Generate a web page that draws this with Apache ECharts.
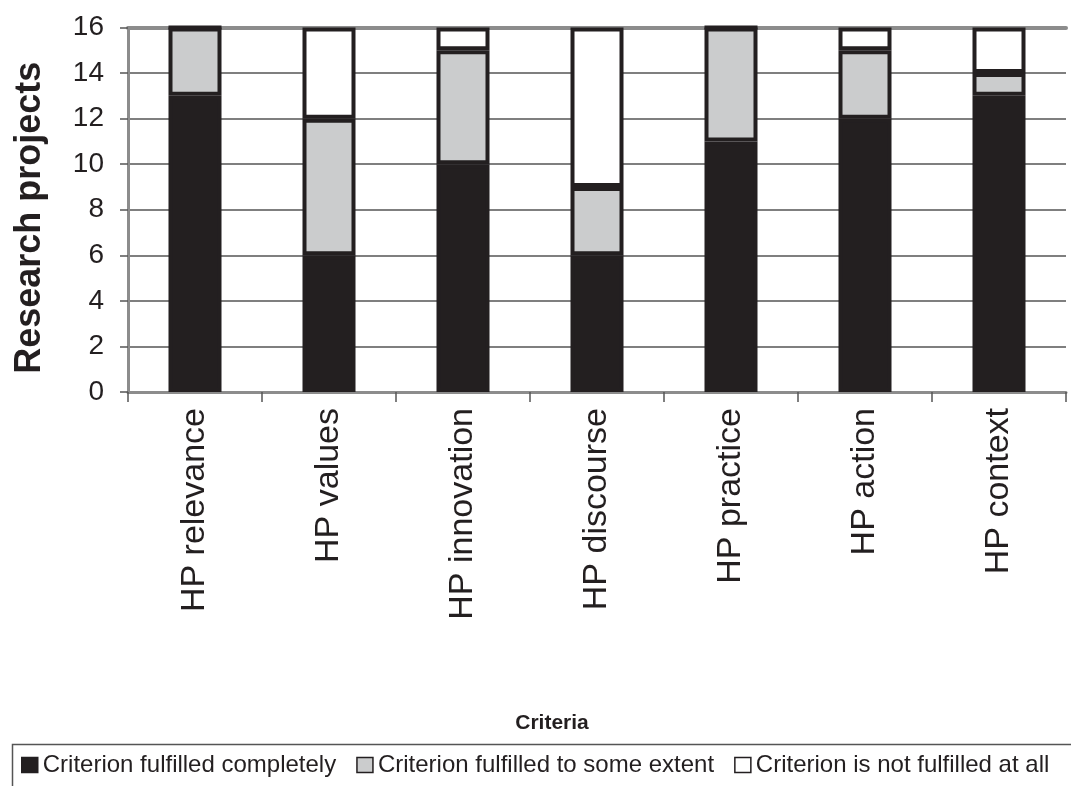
<!DOCTYPE html>
<html>
<head>
<meta charset="utf-8">
<script src="https://cdn.jsdelivr.net/npm/echarts@6/dist/echarts.min.js"></script>
<style>
html,body{margin:0;padding:0;background:#fff;}
#c{width:1071px;height:786px;}
</style>
</head>
<body>
<div id="c"></div>
<script>
var categories = ['HP relevance','HP values','HP innovation','HP discourse','HP practice','HP action','HP context'];
var completely = [13, 6, 10, 6, 11, 12, 13];
var someExtent = [3, 6, 5, 3, 5, 3, 1];
var notAtAll = [0, 4, 1, 7, 0, 1, 2];
var seriesNames = ['Criterion fulfilled completely','Criterion fulfilled to some extent','Criterion is not fulfilled at all'];
var yTicks = {min: 0, max: 16, interval: 2};

var FONT = "'Liberation Sans', Arial, sans-serif";
var INK = '#231f20';
var chart = echarts.init(document.getElementById('c'), null, {renderer: 'canvas'});

function mk(name, data, color) {
  return {
    name: name, type: 'bar', stack: 'total', data: data,
    barWidth: 53,
    itemStyle: {color: color, borderColor: INK, borderWidth: 4},
    emphasis: {disabled: true}
  };
}

chart.setOption({
  animation: false,
  textStyle: {fontFamily: FONT},
  grid: {left: 128, right: 5, top: 27.5, bottom: 394, containLabel: false, outerBoundsMode: 'none'},
  graphic: [{
    type: 'rect', left: 10, top: 742, silent: true,
    shape: {width: 1100, height: 80},
    style: {fill: 'none', stroke: '#555', lineWidth: 1.5}
  }],
  legend: {
    data: seriesNames,
    left: 10, top: 742,
    padding: [11, 0, 10, 11],
    itemGap: 20,
    itemWidth: 16, itemHeight: 15,
    icon: 'rect',
    textStyle: {fontSize: 24, color: INK, fontFamily: FONT},
    itemStyle: {borderColor: INK, borderWidth: 1.5}
  },
  xAxis: [{
    type: 'category', data: categories, position: 'bottom',
    name: 'Criteria', nameLocation: 'middle', nameGap: 321,
    nameTextStyle: {fontSize: 21, fontWeight: 'bold', color: INK, fontFamily: FONT, padding: [0, 90, 0, 0]},
    axisLine: {show: true, lineStyle: {color: '#8c8c8c', width: 3}},
    axisTick: {show: true, length: 10, lineStyle: {color: '#555', width: 1.5}},
    axisLabel: {rotate: 90, fontSize: 34, color: INK, margin: 16, fontFamily: FONT},
    splitLine: {show: false}
  }, {
    type: 'category', data: categories, position: 'top',
    axisLine: {show: true, lineStyle: {color: '#8c8c8c', width: 4}},
    axisTick: {show: false}, axisLabel: {show: false}, splitLine: {show: false}
  }],
  yAxis: {
    type: 'value', min: yTicks.min, max: yTicks.max, interval: yTicks.interval,
    name: 'Research projects', nameLocation: 'middle', nameGap: 80,
    nameTextStyle: {fontSize: 36, fontWeight: 'bold', color: INK, fontFamily: FONT, padding: [0, 16, 0, 0]},
    axisLine: {show: true, lineStyle: {color: '#8c8c8c', width: 3}},
    axisTick: {show: true, length: 8, lineStyle: {color: '#555', width: 1.5}},
    axisLabel: {fontSize: 28, color: INK, margin: 24, fontFamily: FONT},
    splitLine: {show: true, lineStyle: {color: '#555', width: 1.5}}
  },
  series: [
    mk(seriesNames[0], completely, INK),
    mk(seriesNames[1], someExtent, '#cbcccd'),
    mk(seriesNames[2], notAtAll, '#ffffff')
  ]
});
</script>
</body>
</html>
